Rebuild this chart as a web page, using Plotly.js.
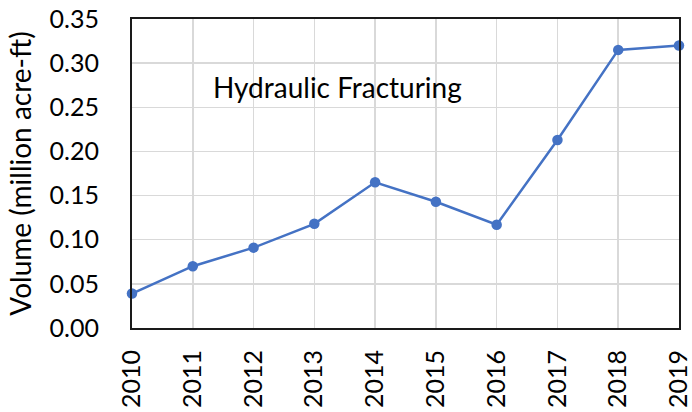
<!DOCTYPE html>
<html>
<head>
<meta charset="utf-8">
<script src="https://cdn.plot.ly/plotly-3.0.1.min.js"></script>
<style>html,body{margin:0;padding:0;background:#fff;}#chart{width:692px;height:412px;}</style>
</head>
<body>
<div id="chart"></div>
<script>
const years = [2010, 2011, 2012, 2013, 2014, 2015, 2016, 2017, 2018, 2019];
const volume = [0.039, 0.070, 0.091, 0.118, 0.165, 0.143, 0.117, 0.213, 0.315, 0.320];
const yTicks = [0, 0.05, 0.10, 0.15, 0.20, 0.25, 0.30, 0.35];
const yTickLabels = ['0.00', '0.05', '0.10', '0.15', '0.20', '0.25', '0.30', '0.35'];
const seriesLabel = 'Hydraulic Fracturing';
const yTitle = 'Volume (million acre-ft)';

const FONT = 'Lato, "Open Sans", sans-serif';

const trace = {
  x: years,
  y: volume,
  type: 'scatter',
  mode: 'lines+markers',
  line: {color: '#4472C4', width: 2.5},
  marker: {color: '#4472C4', size: 10.5},
  cliponaxis: false,
  hoverinfo: 'skip'
};

const layout = {
  width: 692,
  height: 412,
  margin: {l: 131.5, r: 13, t: 19, b: 83.5},
  paper_bgcolor: '#ffffff',
  plot_bgcolor: '#ffffff',
  showlegend: false,
  font: {family: FONT, size: 25, color: '#000000'},
  xaxis: {
    range: [2010, 2019],
    tickmode: 'array',
    tickvals: years,
    ticktext: years.map(String),
    tickangle: -90,
    showgrid: true,
    gridcolor: '#d9d9d9',
    gridwidth: 1.5,
    zeroline: false,
    showline: true,
    linecolor: '#1a1a1a',
    linewidth: 2,
    mirror: true,
    ticks: '',
    ticklabelstandoff: 10,
    ticklabeloverflow: 'allow',
    tickfont: {family: FONT, size: 25, color: '#000'},
    automargin: false
  },
  yaxis: {
    range: [0, 0.35],
    tickmode: 'array',
    tickvals: yTicks,
    ticktext: yTickLabels,
    showgrid: true,
    gridcolor: '#d9d9d9',
    gridwidth: 1.5,
    zeroline: false,
    showline: true,
    linecolor: '#1a1a1a',
    linewidth: 2,
    mirror: true,
    ticks: '',
    ticklabelstandoff: 26,
    ticklabeloverflow: 'allow',
    tickfont: {family: FONT, size: 25, color: '#000'},
    title: {text: yTitle, font: {family: FONT, size: 28, color: '#000'}, standoff: 10},
    automargin: false
  },
  annotations: [{
    x: 2011.3,
    y: 0.273,
    xref: 'x',
    yref: 'y',
    xanchor: 'left',
    yanchor: 'middle',
    text: seriesLabel,
    showarrow: false,
    font: {family: FONT, size: 28, color: '#000'}
  }]
};

Plotly.newPlot('chart', [trace], layout, {staticPlot: true, displayModeBar: false});
</script>
</body>
</html>
